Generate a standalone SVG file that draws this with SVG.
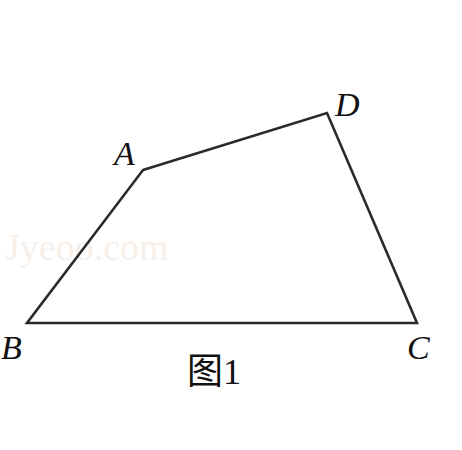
<svg xmlns="http://www.w3.org/2000/svg" width="462" height="450" viewBox="0 0 462 450">
<style>
.lbl{font-family:"Liberation Serif","Times New Roman",serif;font-style:italic;font-size:34px;fill:#111}
.edge{stroke:#2a2a2a;stroke-width:2.6;fill:none;stroke-linejoin:miter}
.cap{font-family:"Liberation Serif","Noto Sans CJK SC",serif;font-size:36px;fill:#111}
.wm{font-family:"Liberation Serif",serif;font-size:38px;fill:#f7efe9}
</style>
<rect width="462" height="450" fill="#fff"/>
<text class="wm" x="5" y="260">Jyeoo.com</text>
<g id="connectors">
<polygon class="edge" points="143,170 327,113 417,323 27,323"/>
</g>
<g id="A"><text class="lbl" x="114" y="165">A</text></g>
<g id="D"><text class="lbl" x="335" y="116">D</text></g>
<g id="B"><text class="lbl" x="1" y="359">B</text></g>
<g id="C"><text class="lbl" x="407" y="359">C</text></g>
<g id="caption"><text class="cap" x="187" y="384">图1</text></g>
</svg>
